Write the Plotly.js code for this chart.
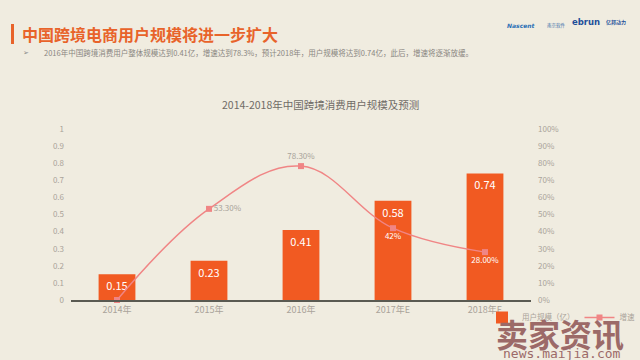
<!DOCTYPE html>
<html><head><meta charset="utf-8">
<script src="https://cdn.plot.ly/plotly-3.0.1.min.js"></script>
<style>html,body{margin:0;padding:0;background:#f0ece0;}#c{width:640px;height:360px;}</style>
</head><body><div id="c"></div>
<script>
const categories = ['2014年','2015年','2016年','2017年E','2018年E'];
const users = [0.15, 0.23, 0.41, 0.58, 0.74];
const growth = [0, 0.533, 0.783, 0.42, 0.28];
const growthLabels = ['', '53.30%', '78.30%', '42%', '28.00%'];
const growthLabelPos = ['top center', 'middle right', 'top center', 'bottom center', 'bottom center'];
const growthLabelColors = ['#999', '#a8a39a', '#a8a39a', '#ffffff', '#ffffff'];
const leftTicks = [0,0.1,0.2,0.3,0.4,0.5,0.6,0.7,0.8,0.9,1];
const rightTicks = [0,0.1,0.2,0.3,0.4,0.5,0.6,0.7,0.8,0.9,1];

const font = '"Noto Sans CJK SC", "Noto Sans", sans-serif';
const barColor = '#f15a22';
const lineColor = '#f08585';
const W = 460, H = 171;
const px = x => (x - 71) / W;
const py = y => (300 - y) / H;

const traces = [
  {type:'bar', x:categories, y:users, name:'用户规模（亿）', marker:{color:barColor},
   text:users.map(v=>v.toFixed(2)), textposition:'inside', insidetextanchor:'end',
   textfont:{color:'#ffffff', size:11, family:font}, cliponaxis:false, hoverinfo:'none'},
  {type:'scatter', mode:'lines+markers+text', x:categories, y:growth, yaxis:'y2', name:'增速',
   line:{color:lineColor, width:1.5, shape:'spline', smoothing:1.1},
   marker:{symbol:'square', size:6, color:lineColor},
   text:growthLabels, textposition:growthLabelPos,
   textfont:{color:growthLabelColors, size:8, family:font}, cliponaxis:false, hoverinfo:'none'}
];

const layout = {
  width:640, height:360,
  paper_bgcolor:'#f0ece0', plot_bgcolor:'rgba(0,0,0,0)',
  margin:{l:71, r:109, t:129, b:60, autoexpand:false},
  font:{family:font, color:'#aaa39a'},
  showlegend:true,
  legend:{orientation:'h', x:px(482), y:py(303), xanchor:'left', yanchor:'top',
    font:{size:7.5, color:'#aaa39a'}, bgcolor:'rgba(0,0,0,0)', itemwidth:30, tracegroupgap:0},
  bargap:0.6,
  xaxis:{type:'category', showgrid:false, zeroline:false, showline:true, linecolor:'#5a5a52', linewidth:2,
    ticks:'', tickfont:{size:9, color:'#aaa39a'}, fixedrange:true},
  yaxis:{range:[0,1], tickvals:leftTicks, ticktext:leftTicks.map(String), showgrid:false, zeroline:false,
    showline:false, tickfont:{size:8, color:'#aaa39a'}, ticks:'', ticklabelstandoff:6},
  yaxis2:{range:[0,1], overlaying:'y', side:'right', tickvals:rightTicks,
    ticktext:rightTicks.map(v=>Math.round(v*100)+'%'), showgrid:false, zeroline:false, showline:false,
    tickfont:{size:8, color:'#aaa39a'}, ticks:'', ticklabelstandoff:6},
  shapes:[
    {type:'rect', xref:'paper', yref:'paper', x0:px(11), x1:px(14), y0:py(44), y1:py(24),
     fillcolor:'#e8632a', line:{width:0}}
  ],
  annotations:[
    {text:'<b>中国跨境电商用户规模将进一步扩大</b>', xref:'paper', yref:'paper', x:px(20), y:py(34),
     xanchor:'left', yanchor:'middle', showarrow:false, font:{size:16, color:'#e8632a', family:font}},
    {text:'➢', xref:'paper', yref:'paper', x:px(21), y:py(52), xanchor:'left', yanchor:'middle',
     showarrow:false, font:{size:7, color:'#888'}},
    {text:'2016年中国跨境消费用户整体规模达到0.41亿，增速达到78.3%，预计2018年，用户规模将达到0.74亿，此后，增速将逐渐放缓。',
     xref:'paper', yref:'paper', x:px(42), y:py(52), xanchor:'left', yanchor:'middle',
     showarrow:false, font:{size:7.5, color:'#8a8680', family:font}},
    {text:'2014-2018年中国跨境消费用户规模及预测', xref:'paper', yref:'paper', x:px(320), y:py(104),
     xanchor:'center', yanchor:'middle', showarrow:false, font:{size:10.5, color:'#6f6b66', family:font}},
    {text:'<b><i>Nascent</i></b>', xref:'paper', yref:'paper', x:px(505), y:py(25),
     xanchor:'left', yanchor:'middle', showarrow:false, font:{size:6, color:'#2a6fb5', family:'DejaVu Sans'}},
    {text:'南京软件', xref:'paper', yref:'paper', x:px(545), y:py(25),
     xanchor:'left', yanchor:'middle', showarrow:false, font:{size:4.5, color:'#3a6ea8', family:font}},
    {text:'<b>ebrun</b>', xref:'paper', yref:'paper', x:px(570), y:py(22),
     xanchor:'left', yanchor:'middle', showarrow:false, font:{size:8.5, color:'#1f4f9a', family:'DejaVu Sans'}},
    {text:'<b>亿邦动力</b>', xref:'paper', yref:'paper', x:px(604), y:py(22),
     xanchor:'left', yanchor:'middle', showarrow:false, font:{size:5, color:'#1f4f9a', family:font}},
    {text:'<b>卖家资讯</b>', xref:'paper', yref:'paper', x:px(560), y:py(333),
     xanchor:'center', yanchor:'middle', showarrow:false, font:{size:32, color:'#9c6a68', family:font}},
    {text:'news.maijia.com', xref:'paper', yref:'paper', x:px(562), y:py(353),
     xanchor:'center', yanchor:'middle', showarrow:false, font:{size:13, color:'#9c6a68', family:'DejaVu Sans Mono'}}
  ]
};
Plotly.newPlot('c', traces, layout, {displayModeBar:false, staticPlot:true});
</script></body></html>
